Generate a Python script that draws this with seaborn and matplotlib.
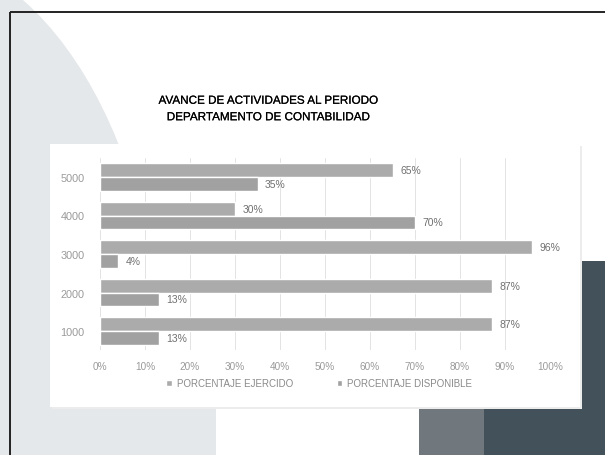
import numpy as np
import pandas as pd
import matplotlib
matplotlib.use("Agg")
import matplotlib.pyplot as plt
from matplotlib.patches import Rectangle, Ellipse
import matplotlib.patheffects as pe
import seaborn as sb

# datos del grafico
periodos = ["5000", "4000", "3000", "2000", "1000"]
ejercido = [65, 30, 96, 87, 87]
disponible = [35, 70, 4, 13, 13]
series = ["PORCENTAJE EJERCIDO", "PORCENTAJE DISPONIBLE"]
ticks_x = [0, 10, 20, 30, 40, 50, 60, 70, 80, 90, 100]
titulo = "AVANCE DE ACTIVIDADES AL PERIODO\nDEPARTAMENTO DE CONTABILIDAD"

df = pd.DataFrame({
    "Periodo": periodos * 2,
    "Tipo": [series[0]] * len(periodos) + [series[1]] * len(periodos),
    "Valor": ejercido + disponible,
})

sb.set_theme(style="white")
plt.rcParams["font.family"] = ["Liberation Sans", "DejaVu Sans"]

W, H = 605, 456
fig = plt.figure(figsize=(W / 100, H / 100), dpi=100)
fig.patch.set_facecolor("white")

# fondo de la diapositiva (coordenadas en pixeles)
bg = fig.add_axes([0, 0, 1, 1], zorder=0)
bg.set_xlim(0, W)
bg.set_ylim(H, 0)
bg.axis("off")
bg.add_patch(Ellipse((-100, 385), 2 * 262, 2 * 435, color="#e5e8ea", lw=0))
bg.add_patch(Rectangle((10, 400), 206, 56, color="#e5e8ea", lw=0))
bg.add_patch(Rectangle((419, 262), 70, 200, color="#70777d", lw=0))
bg.add_patch(Rectangle((484, 262), 130, 200, color="#43515a", lw=0))
bg.add_patch(Rectangle((52, 147), 530, 263, color="#ececec", lw=0))
bg.add_patch(Rectangle((50, 145), 530, 263, color="white", lw=0))
bg.add_patch(Rectangle((10, 13), 600, 460, fill=False, ec="#222222", lw=1.4))
bg.text(268, 110, titulo, ha="center", va="center", fontsize=8.4,
        color="#000000", linespacing=1.5,
        path_effects=[pe.withStroke(linewidth=0.12, foreground="#000000")])

# area del grafico
ax = fig.add_axes([100 / W, (H - 351.25) / H, 450 / W, 192.5 / H], zorder=1)
ax.patch.set_alpha(0)
sb.barplot(data=df, y="Periodo", x="Valor", hue="Tipo", order=periodos,
           hue_order=series, orient="h", width=0.72,
           palette=["#ababab", "#a1a1a1"], saturation=1, ax=ax)

for cont in ax.containers:
    ax.bar_label(cont, fmt="%d%%", padding=5.5, fontsize=7.5, color="#707070")

ax.set_xlim(0, 100)
ax.set_xticks(ticks_x)
ax.set_xticklabels([f"{t}%" for t in ticks_x])
ax.set_xlabel("")
ax.set_ylabel("")
ax.tick_params(axis="x", labelsize=7.2, colors="#9a9a9a", length=0, pad=8)
ax.tick_params(axis="y", labelsize=7.8, colors="#9a9a9a", length=0, pad=11)
ax.grid(axis="x", color="#dedede", lw=0.6)
ax.set_axisbelow(True)
for s in ax.spines.values():
    s.set_visible(False)

leg = ax.legend(loc="upper center", bbox_to_anchor=(0.487, -0.1), ncol=2,
                frameon=False, fontsize=7, handlelength=0.6, handleheight=0.6,
                handletextpad=0.5, columnspacing=4.5)
for t in leg.get_texts():
    t.set_color("#8a8a8a")

fig.savefig("out.png", dpi=100)
